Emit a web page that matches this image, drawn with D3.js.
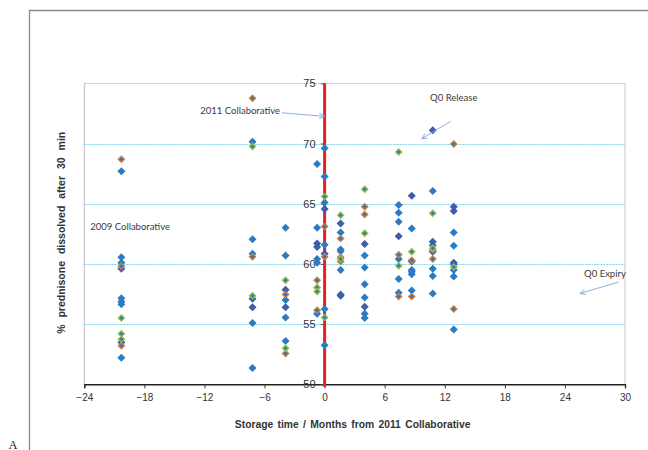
<!DOCTYPE html>
<html>
<head>
<meta charset="utf-8">
<script src="https://cdn.jsdelivr.net/npm/d3@7"></script>
<style>
html,body{margin:0;padding:0;background:#fff;}
svg{display:block;}
</style>
</head>
<body>
<svg id="chart" width="648" height="450"></svg>
<script>
// ---- data (months from 2011 Collaborative, % dissolved after 30 min) ----
const xTicks = [-24, -18, -12, -6, 0, 6, 12, 18, 24, 30];
const yTicks = [50, 55, 60, 65, 70, 75];
const gridValues = [55, 60, 65, 70, 75];

const blueSeries = [
  [-20.3, 67.7], [-20.3, 60.55], [-20.3, 60.1], [-20.3, 57.15], [-20.3, 56.85], [-20.3, 56.65], [-20.3, 52.2],
  [-7.2, 70.15], [-7.2, 62.05], [-7.2, 60.85], [-7.2, 55.1], [-7.2, 51.35],
  [-3.9, 63.0], [-3.9, 60.7], [-3.9, 57.0], [-3.9, 55.55], [-3.9, 53.6],
  [-0.75, 68.3], [-0.75, 63.0], [-0.75, 60.4], [-0.75, 60.1], [-0.75, 55.85],
  [0, 69.6], [0, 67.25], [0, 65.1], [0, 61.6], [0, 56.25], [0, 53.25],
  [1.6, 62.6], [1.6, 61.2], [1.6, 61.05], [1.6, 59.5], [1.6, 57.45],
  [4.0, 60.7], [4.0, 59.7], [4.0, 58.3], [4.0, 57.2], [4.0, 55.85], [4.0, 55.5],
  [7.4, 64.9], [7.4, 64.25], [7.4, 63.5], [7.4, 60.4], [7.4, 58.75], [7.4, 57.6],
  [8.7, 62.95], [8.7, 59.5], [8.7, 59.35], [8.7, 59.15], [8.7, 57.8],
  [10.8, 66.05], [10.8, 61.55], [10.8, 59.6], [10.8, 59.0], [10.8, 57.55],
  [12.9, 62.6], [12.9, 61.5], [12.9, 59.95], [12.9, 59.5], [12.9, 58.95], [12.9, 54.55]
];
const darkSeries = [
  [-20.3, 59.6], [-20.3, 53.5],
  [-7.2, 57.1], [-7.2, 56.4],
  [-3.9, 57.85], [-3.9, 56.4],
  [-0.75, 61.7], [-0.75, 61.4],
  [0, 64.55], [0, 60.85],
  [1.6, 63.35], [1.6, 57.35],
  [4.0, 61.65], [4.0, 56.45],
  [7.4, 62.3],
  [8.7, 65.65], [8.7, 60.2],
  [10.8, 71.1], [10.8, 61.85], [10.8, 61.0],
  [12.9, 64.75], [12.9, 64.4], [12.9, 60.1]
];
const orangeSeries = [
  [-20.3, 68.7], [-20.3, 59.8], [-20.3, 53.2],
  [-7.2, 73.75], [-7.2, 60.6],
  [-3.9, 57.45], [-3.9, 52.55],
  [-0.75, 58.65], [-0.75, 56.15],
  [0, 63.1], [0, 60.6],
  [1.6, 62.1], [1.6, 60.55], [1.6, 60.2],
  [4.0, 64.75], [4.0, 64.1],
  [7.4, 60.75], [7.4, 57.3],
  [8.7, 60.3], [8.7, 57.3],
  [10.8, 61.15], [10.8, 60.4],
  [12.9, 69.95], [12.9, 56.25]
];
const greenSeries = [
  [-20.3, 55.5], [-20.3, 54.2], [-20.3, 53.75],
  [-7.2, 69.75], [-7.2, 57.35],
  [-3.9, 58.65], [-3.9, 53.0],
  [-0.75, 58.05], [-0.75, 57.7],
  [0, 65.6], [0, 55.55],
  [1.6, 64.05], [1.6, 60.4],
  [4.0, 66.2], [4.0, 62.55],
  [7.4, 69.3], [7.4, 59.85],
  [8.7, 61.0],
  [10.8, 64.2], [10.8, 61.3],
  [12.9, 59.75]
];

// annotations: [label, month, value] for text, arrows as [fromMonth, fromVal, toMonth, toVal]
const annotationLabels = ["2011 Collaborative", "2009 Collaborative", "Q0 Release", "Q0 Expiry"];
const annotationPos = [[-4.45, 72.45], [-23.4, 62.85], [12.9, 73.55], [28.0, 58.95]];
const annotationArrows = [[-4.26, 72.55], [0, 72.25], [12.6, 71.85], [9.7, 70.4], [29.4, 58.5], [25.5, 57.55]];

const xTitle = "Storage time / Months from 2011 Collaborative";
const yTitle = "% prednisone dissolved after 30 min";

// ---- drawing ----
const svg = d3.select("#chart");
const x = d3.scaleLinear().domain([-24, 30]).range([84.3, 625]);
const y = d3.scaleLinear().domain([50, 75]).range([384.3, 83.3]);

// outer frame
svg.append("path").attr("d", "M29.5,450 V10.5 H648")
  .attr("fill", "none").attr("stroke", "#8a8a8a").attr("stroke-width", 1.3);

// plot side borders
svg.append("line").attr("x1", x(-24)).attr("x2", x(-24)).attr("y1", y(75)).attr("y2", y(50))
  .attr("stroke", "#bdbdbd").attr("stroke-width", 1);
svg.append("line").attr("x1", x(30)).attr("x2", x(30)).attr("y1", y(75)).attr("y2", y(50))
  .attr("stroke", "#c8c8c8").attr("stroke-width", 1);

// gridlines
svg.append("g").selectAll("line").data(gridValues).join("line")
  .attr("x1", x(-24)).attr("x2", x(30))
  .attr("y1", d => Math.round(y(d)) + 0.5).attr("y2", d => Math.round(y(d)) + 0.5)
  .attr("stroke", "#7fd2f2").attr("stroke-width", 1).attr("stroke-dasharray", "2,1");

// x axis
const xAxis = svg.append("g").attr("transform", `translate(0,${y(50)})`)
  .call(d3.axisBottom(x).tickValues(xTicks).tickSize(4).tickPadding(6).tickFormat(d3.format("d")));
xAxis.select(".domain").attr("stroke", "#222").attr("stroke-width", 1.4);
xAxis.selectAll(".tick line").attr("stroke", "#333");
xAxis.selectAll("text").attr("font-family", "Liberation Sans, Arial, sans-serif")
  .attr("font-size", 10).attr("fill", "#333");

// y axis at x=0
const yAxis = svg.append("g").attr("transform", `translate(${x(0)},0)`)
  .call(d3.axisLeft(y).tickValues(yTicks).tickSize(4).tickPadding(5).tickFormat(d3.format("d")));
yAxis.select(".domain").remove();
yAxis.selectAll(".tick line").attr("stroke", "#555");
yAxis.selectAll("text").attr("font-family", "Liberation Sans, Arial, sans-serif")
  .attr("font-size", 11).attr("fill", "#333");

// red vertical line
svg.append("line").attr("x1", x(0)).attr("x2", x(0)).attr("y1", y(75)).attr("y2", y(50) + 2.5)
  .attr("stroke", "#ec1c24").attr("stroke-width", 3);

// markers
const dia = r => `M0,${-r}L${r},0L0,${r}L${-r},0Z`;
function drawSeries(data, outer, inner) {
  const g = svg.append("g");
  const pts = g.selectAll("g").data(data).join("g")
    .attr("transform", d => `translate(${x(d[0])},${y(d[1])})`);
  pts.append("path").attr("d", dia(4)).attr("fill", outer);
  if (inner) pts.append("path").attr("d", dia(2)).attr("fill", inner);
}
drawSeries(blueSeries, "#2a7bc2", null);
drawSeries(darkSeries, "#3c5aa6", "#3f62b0");
drawSeries(orangeSeries, "#c9803e", "#2f74b8");
drawSeries(greenSeries, "#93bd45", "#2f78bb");

// annotations
const annFont = "Lato, 'Open Sans', sans-serif";
svg.append("g").selectAll("text").data(annotationLabels).join("text")
  .attr("x", (d, i) => x(annotationPos[i][0]))
  .attr("y", (d, i) => y(annotationPos[i][1]))
  .attr("text-anchor", (d, i) => i === 0 ? "end" : (i === 1 ? "start" : "middle"))
  .attr("font-family", annFont).attr("font-size", 9.5).attr("fill", "#3a3a3a")
  .text(d => d);

const arrowColor = "#7ea6d8";
for (let i = 0; i < annotationArrows.length; i += 2) {
  const [x1, y1] = [x(annotationArrows[i][0]), y(annotationArrows[i][1])];
  const [x2, y2] = [x(annotationArrows[i + 1][0]), y(annotationArrows[i + 1][1])];
  svg.append("line").attr("x1", x1).attr("y1", y1).attr("x2", x2).attr("y2", y2)
    .attr("stroke", arrowColor).attr("stroke-width", 0.9);
  const ang = Math.atan2(y2 - y1, x2 - x1);
  const L = 6, w = 0.45;
  const p1 = [x2 - L * Math.cos(ang - w), y2 - L * Math.sin(ang - w)];
  const p2 = [x2 - L * Math.cos(ang + w), y2 - L * Math.sin(ang + w)];
  svg.append("path").attr("d", `M${p1[0]},${p1[1]}L${x2},${y2}L${p2[0]},${p2[1]}`)
    .attr("fill", "none").attr("stroke", arrowColor).attr("stroke-width", 0.9);
}

// axis titles
svg.append("text").attr("x", (x(-24) + x(30)) / 2 - 2).attr("y", 427.5)
  .attr("text-anchor", "middle").attr("font-family", "Liberation Sans, Arial, sans-serif")
  .attr("font-weight", "bold").attr("font-size", 10.3).attr("fill", "#333").attr("word-spacing", 1.5)
  .text(xTitle);
svg.append("text").attr("transform", `translate(64.5,${(y(75) + y(50)) / 2 - 1}) rotate(-90)`)
  .attr("text-anchor", "middle").attr("font-family", "Liberation Sans, Arial, sans-serif")
  .attr("font-weight", "bold").attr("font-size", 10.5).attr("fill", "#333").attr("word-spacing", 4)
  .text(yTitle);

// panel letter
svg.append("text").attr("x", 13).attr("y", 448.5).attr("text-anchor", "middle")
  .attr("font-family", "Liberation Serif, serif").attr("font-size", 12.5).attr("fill", "#222")
  .text("A");
</script>
</body>
</html>
